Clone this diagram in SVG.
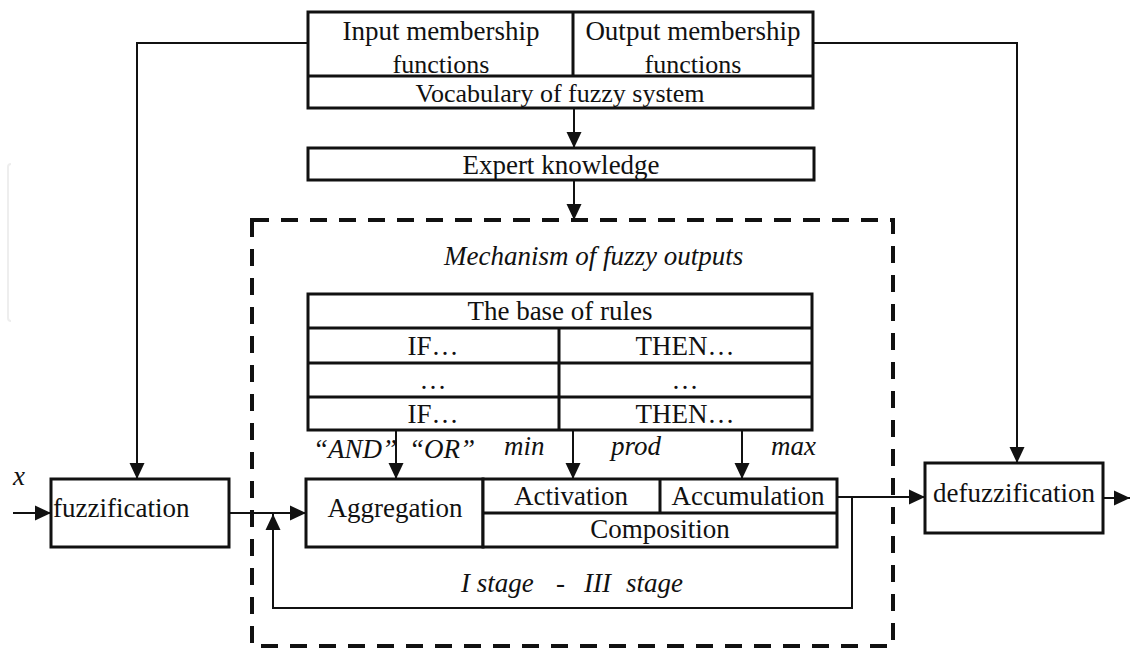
<svg xmlns="http://www.w3.org/2000/svg" width="1130" height="650" viewBox="0 0 1130 650">
<defs>
<style>
text{font-family:"Liberation Serif","Times New Roman",serif;font-size:27px;fill:#111;}
.c{text-anchor:middle;}
.i{font-style:italic;}
.s{font-size:26px;}
.box{fill:#fff;stroke:#111;stroke-width:3;}
.ln{fill:none;stroke:#111;stroke-width:3;}
.con{fill:none;stroke:#111;stroke-width:2;}
.arr{marker-end:url(#ah);}
.dash{fill:none;stroke:#111;stroke-width:4;stroke-dasharray:17 12;}
</style>
<marker id="ah" viewBox="0 0 16 16" refX="16" refY="8" markerWidth="16" markerHeight="16" markerUnits="userSpaceOnUse" orient="auto">
<path d="M0,0.5 L16,8 L0,15.5 z" fill="#111"/>
</marker>
</defs>
<rect width="1130" height="650" fill="#fff"/>
<path d="M11,164 Q8,164 8,167 L8,318 Q8,321 11,321" fill="none" stroke="#eeeeee" stroke-width="2"/>

<g id="mechanism">
<rect x="252" y="220" width="641" height="426" class="dash"/>
<text class="i" x="444" y="265">Mechanism of fuzzy outputs</text>
</g>

<g id="connectors">
<path class="con arr" d="M308,43 H137 V479"/>
<path class="con arr" d="M813,43 H1017 V463"/>
<path class="con arr" d="M574,108 V148"/>
<path class="con arr" d="M574,180 V220"/>
<path class="con arr" d="M13,513 H51"/>
<path class="con arr" d="M229,513 H306"/>
<path class="con arr" d="M396,430 V479"/>
<path class="con arr" d="M573,430 V479"/>
<path class="con arr" d="M742,430 V479"/>
<path class="con arr" d="M837,497 H925"/>
<path class="con arr" d="M852,497 V608 H273 V514"/>
<path class="con arr" d="M1103,498 H1130"/>
</g>

<g id="vocabulary">
<rect class="box" x="308" y="12" width="505" height="96"/>
<text class="c" x="441" y="40">Input membership</text>
<text class="c s" x="441" y="73">functions</text>
<text class="c" x="693" y="40">Output membership</text>
<text class="c s" x="693" y="73">functions</text>
<path class="ln" d="M573,12 V76 M308,76 H813"/>
<text class="c s" x="560" y="102">Vocabulary of fuzzy system</text>
</g>

<g id="expert">
<rect class="box" x="308" y="148" width="506" height="32"/>
<text class="c" x="561" y="174">Expert knowledge</text>
</g>

<g id="rules">
<rect class="box" x="308" y="294" width="504" height="136"/>
<path class="ln" d="M308,328 H812 M308,363 H812 M308,397 H812 M559,328 V430"/>
<text class="c" x="560" y="320">The base of rules</text>
<text class="c" x="433" y="355">IF…</text>
<text class="c" x="685" y="355">THEN…</text>
<text class="c" x="433" y="389">…</text>
<text class="c" x="685" y="389">…</text>
<text class="c" x="433" y="423">IF…</text>
<text class="c" x="685" y="423">THEN…</text>
</g>

<g id="labels">
<text class="i" x="313" y="458">“AND”</text>
<text class="i" x="409" y="458">“OR”</text>
<text class="i" x="504" y="455">min</text>
<text class="i" x="611" y="455">prod</text>
<text class="i" x="771" y="455">max</text>
<text class="i" x="13" y="485">x</text>
<text class="i" y="592"><tspan x="461">I stage</tspan><tspan x="556">-</tspan><tspan x="584">III</tspan><tspan x="626">stage</tspan></text>
</g>

<g id="fuzzification">
<rect class="box" x="51" y="479" width="178" height="68"/>
<text x="53" y="517">fuzzification</text>
</g>

<g id="aggregation">
<rect class="box" x="306" y="479" width="177" height="68"/>
<text class="c" x="395" y="517">Aggregation</text>
</g>

<g id="composition">
<rect class="box" x="483" y="479" width="354" height="68"/>
<path class="ln" d="M483,513 H837 M660,479 V513"/>
<text class="c" x="571" y="505">Activation</text>
<text class="c" x="748" y="505">Accumulation</text>
<text class="c" x="660" y="538">Composition</text>
</g>

<g id="defuzzification">
<rect class="box" x="925" y="463" width="178" height="70"/>
<text class="c" x="1014" y="502">defuzzification</text>
</g>
</svg>
